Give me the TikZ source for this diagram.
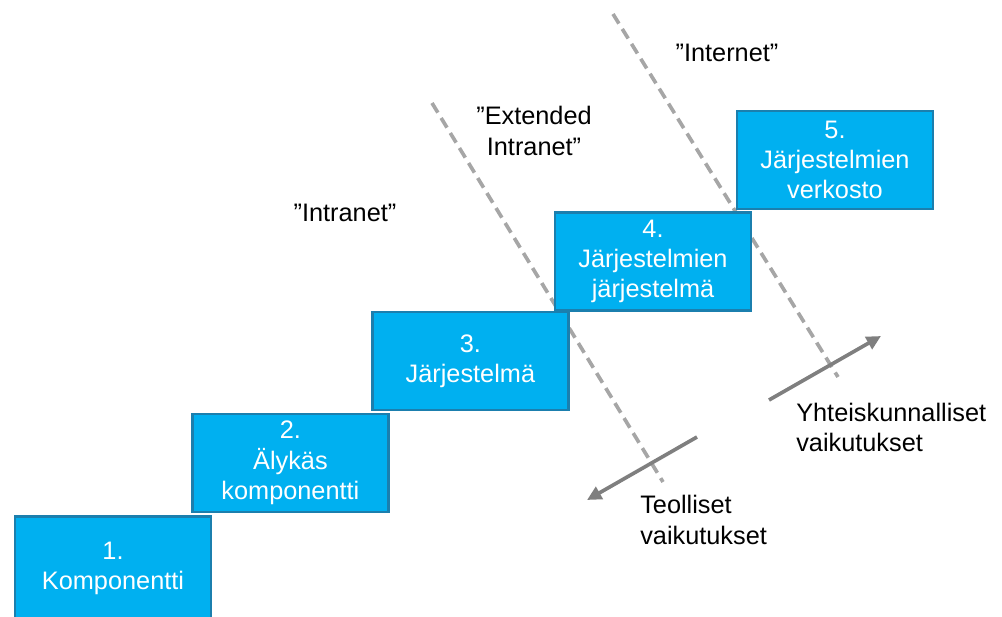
\documentclass[tikz,border=0pt]{standalone}
\usepackage{fontspec}
\setmainfont{Liberation Sans}
\usetikzlibrary{arrows.meta,positioning}
\definecolor{cStep}{HTML}{00B0F0}
\definecolor{cStepEdge}{HTML}{1B7FAE}
\definecolor{cDash}{HTML}{A6A6A6}
\definecolor{cImpact}{HTML}{7F7F7F}
\tikzset{
  stage/.style={rectangle, draw=cStepEdge, line width=1.8pt, fill=cStep, text=white, align=center, minimum width=4.9cm, minimum height=2.45cm, inner sep=0pt},
  zone/.style={align=center, inner sep=0pt},
  effect/.style={align=left, inner sep=0pt, anchor=west},
  border/.style={cDash, line width=2.6pt, dash pattern=on 8pt off 4.5pt},
  impact/.style={-{Triangle[length=3.6mm, width=3.4mm]}, cImpact, line width=2.6pt},
}

\begin{document}
\begin{tikzpicture}[font=\fontsize{18}{21.5}\selectfont]
  \useasboundingbox (0,0) rectangle (25.05,15.4);
  % zone borders
  \coordinate (b1a) at (10.8, 12.825);
  \coordinate (b1b) at (16.575, 3.35);
  \coordinate (b2a) at (15.325, 15.05);
  \coordinate (b2b) at (20.95, 5.975);
  \draw[border] (b1a) -- (b1b);
  \draw[border] (b2a) -- (b2b);
  % staircase
  \node[stage, minimum height=2.6cm] (s1) at (2.825, 1.19) {1.\\Komponentti};
  \node[stage] (s2) at (7.26, 3.825) {2.\\Älykäs\\komponentti};
  \node[stage] (s3) at (11.76, 6.375) {3.\\Järjestelmä};
  \node[stage] (s4) at (16.325, 8.86) {4.\\Järjestelmien\\järjestelmä};
  \node[stage] (s5) at (20.875, 11.4) {5.\\Järjestelmien\\verkosto};
  % zone names
  \node[zone] (intra) at (8.625, 10.075) {”Intranet”};
  \node[zone] (extra) at (13.35, 12.125) {”Extended\\Intranet”};
  \node[zone] (inet) at (18.175, 14.075) {”Internet”};
  % impacts
  \coordinate (i1a) at (17.425, 4.475);
  \coordinate (i1b) at (14.675, 2.9);
  \coordinate (i2a) at (19.225, 5.4);
  \coordinate (i2b) at (22.025, 7.0);
  \draw[impact] (i1a) -- (i1b);
  \draw[impact] (i2a) -- (i2b);
  \node[effect] (ind) at (16.0, 2.4) {Teolliset\\vaikutukset};
  \node[effect] (soc) at (19.9, 4.72) {Yhteiskunnalliset\\vaikutukset};
\end{tikzpicture}
\end{document}
